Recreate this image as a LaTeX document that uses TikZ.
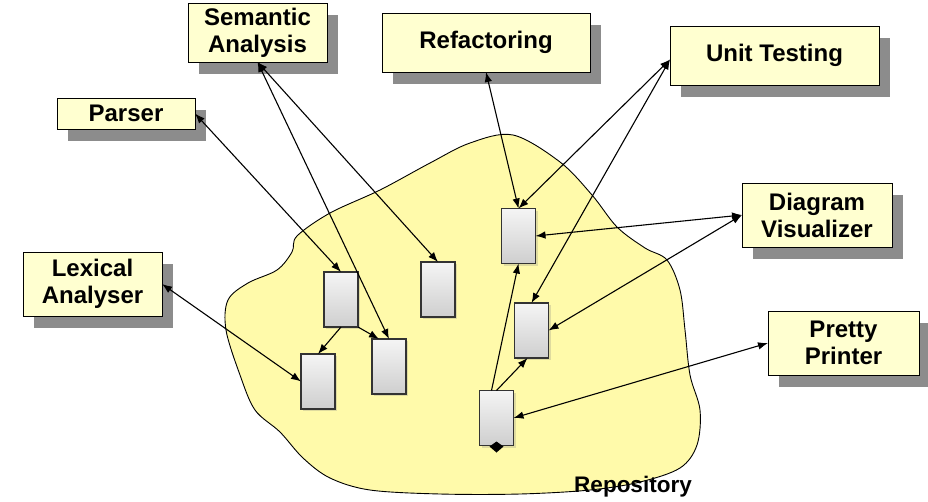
\documentclass[tikz,border=0pt]{standalone}
\usepackage{fontspec}
\setmainfont{Liberation Sans}
\usetikzlibrary{shapes,arrows,positioning,shadows}
\usetikzlibrary{arrows.meta}

\definecolor{boxyellow}{RGB}{255,255,208}
\definecolor{blobyellow}{RGB}{255,250,170}
\definecolor{shadowgray}{RGB}{140,140,140}

\tikzset{
  tool/.style={draw=black, line width=0.9pt, fill=boxyellow, align=center,
    inner sep=0pt, outer sep=0pt,
    font=\bfseries\fontsize{24}{27}\selectfont,
    drop shadow={fill=shadowgray, opacity=1, shadow xshift=11pt, shadow yshift=-12pt}},
  store/.style={draw=black!80, line width=1.3pt, top color=gray!8, bottom color=gray!38,
    minimum width=34pt, minimum height=55pt, inner sep=0pt, outer sep=0pt,
    drop shadow={opacity=0.25, shadow xshift=2pt, shadow yshift=-2pt}},
  link/.style={line width=1.1pt, {Latex[length=10pt,width=7.5pt]}-{Latex[length=10pt,width=7.5pt]}},
  feed/.style={line width=1.1pt, -{Latex[length=10pt,width=7.5pt]}}
}

\begin{document}
\begin{tikzpicture}[x=1pt,y=-1pt]
\useasboundingbox (0,0) rectangle (928,501);

% Draw the repository blob
\fill[blobyellow, draw=black, line width=0.9pt] plot[smooth cycle, tension=0.55] coordinates {
  (297,236) (330,213) (380,190) (430,163) (470,143) (513,135) (560,162)
  (592,195) (617,227) (645,248) (667,260) (680,290) (685,330) (690,375)
  (700,410) (697,445) (680,468) (640,482) (590,490) (520,494) (440,494)
  (370,490) (330,478) (303,458) (280,432) (255,410) (240,375) (226,330)
  (228,300) (248,283) (277,270) (292,252)
};
\node[font=\bfseries\fontsize{22.5}{26}\selectfont] (repo) at (633,487) {Repository};

% Tools round the repository
\node[tool, minimum width=139pt, minimum height=59pt] (semantic) at (257.5,32.5) {Semantic\\Analysis};
\node[tool, minimum width=208pt, minimum height=59pt] (refactor) at (486,42.5) {Refactoring};
\node[tool, minimum width=209pt, minimum height=59pt] (unittest) at (774.5,55.5) {Unit Testing};
\node[tool, minimum width=138pt, minimum height=31pt] (parser) at (126,113.5) {Parser};
\node[tool, minimum width=139pt, minimum height=64pt] (lexical) at (92.5,284) {Lexical\\Analyser};
\node[tool, minimum width=150pt, minimum height=64pt] (visual) at (817,215) {Diagram\\Visualizer};
\node[tool, minimum width=151pt, minimum height=64pt] (pretty) at (843.5,343) {Pretty\\Printer};

% Stored items in the repository
\foreach \n/\x/\y in {r1/341/299.5, r2/318/381.5, r3/389/366.5, r4/438/289.5,
                      r5/496.5/418, r6/531.5/330.5, r7/518.5/236}
  \node[store] (\n) at (\x,\y) {};

% Links between tools and items
\draw[link] (parser.east) -- (r1.north);
\draw[link] (semantic.south) -- (r4.north);
\draw[link] (semantic.south) -- (r3.north);
\draw[link] (lexical.east) -- (r2.west);
\draw[link] (refactor.south) -- (r7.north);
\draw[link] ([yshift=-4pt]unittest.west) -- (r7.north);
\draw[link] ([yshift=-4pt]unittest.west) -- (r6.north);
\draw[link] (visual.west) -- (r7.east);
\draw[link] (visual.west) -- (r6.east);
\draw[link] (pretty.west) -- (r5.east);

% Links between items
\draw[feed] (r1.south) -- (r2.north);
\draw[feed] (r1.south east) -- ([xshift=-10pt]r3.north);
\draw[feed] ([xshift=-5pt]r5.north) -- (r7.south);
\draw[feed] (r5.north) -- ([xshift=-4pt]r6.south);
\fill (r5.south) ++(-7,1) -- ++(7,-5) -- ++(7,5) -- ++(-7,6) -- cycle;

\end{tikzpicture}
\end{document}
